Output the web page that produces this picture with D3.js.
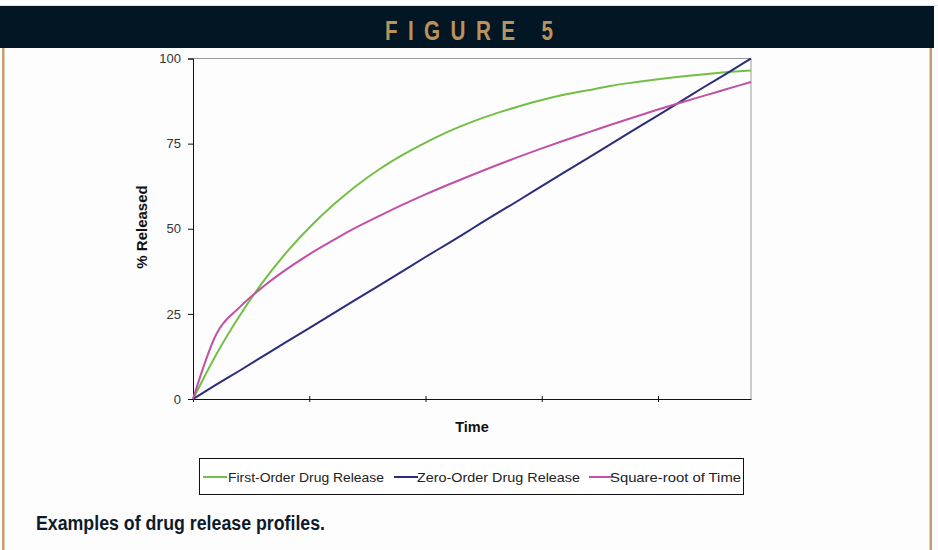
<!DOCTYPE html>
<html>
<head>
<meta charset="utf-8">
<script src="https://cdn.jsdelivr.net/npm/d3@7"></script>
<style>
  html, body { margin: 0; padding: 0; background: #fdfdfd; }
  svg { display: block; }
</style>
</head>
<body>
<svg id="chart" width="938" height="550"></svg>
<script>
// Time points (hours) and % released for the three release models
const timePoints = [0, 1, 2, 3, 4, 5, 6, 7, 8, 9, 10, 11, 12, 13, 14, 15, 16, 17, 18, 19, 20, 21, 22, 23, 24];
const firstOrder = [0, 13.1, 24.4, 34.3, 42.9, 50.3, 56.8, 62.5, 67.4, 71.6, 75.3, 78.6, 81.4, 83.8, 85.9, 87.8, 89.4, 90.7, 92.0, 93.0, 93.9, 94.7, 95.4, 96.0, 96.5];
const zeroOrder = [0, 4.2, 8.3, 12.5, 16.7, 20.8, 25, 29.2, 33.3, 37.5, 41.7, 45.8, 50, 54.2, 58.3, 62.5, 66.7, 70.8, 75, 79.2, 83.3, 87.5, 91.7, 95.8, 100];
const sqrtTime = [0, 19.0, 26.9, 32.9, 38.0, 42.5, 46.5, 50.3, 53.7, 57.0, 60.1, 63.0, 65.8, 68.5, 71.1, 73.6, 76.0, 78.3, 80.6, 82.8, 85.0, 87.1, 89.1, 91.1, 93.1];
const seriesNames = ["First-Order Drug Release", "Zero-Order Drug Release", "Square-root of Time"];
const seriesColors = ["#72bf44", "#2c2c7c", "#c050a8"];
const yTicks = [0, 25, 50, 75, 100];
const xTicks = [0, 5, 10, 15, 20];

const svg = d3.select("#chart");

// Page frame: dark header band and tan side rules
svg.append("line").attr("x1", 0).attr("x2", 938).attr("y1", 5.5).attr("y2", 5.5)
  .attr("stroke", "#e2e2e2").attr("stroke-width", 1);
svg.append("rect").attr("x", 0).attr("y", 6).attr("width", 934).attr("height", 42).attr("fill", "#021624");
svg.append("rect").attr("x", 2).attr("y", 48).attr("width", 2.5).attr("height", 502).attr("fill", "#c4a06f");
svg.append("rect").attr("x", 929.5).attr("y", 48).attr("width", 2.5).attr("height", 502).attr("fill", "#c4a06f");

// Condensed, letter-spaced heading
svg.append("g")
  .attr("transform", "translate(385,39.5) scale(0.74,1)")
  .append("text")
  .attr("x", 0).attr("y", 0)
  .attr("textLength", 168 / 0.74).attr("lengthAdjust", "spacing")
  .attr("font-family", "Arial, 'Liberation Sans', sans-serif")
  .attr("font-size", 28).attr("font-weight", "bold")
  .attr("fill", "#b8935d")
  .text("FIGURE 5");

// Plot area
const plot = { left: 193, right: 751, top: 58.5, bottom: 399 };
const x = d3.scaleLinear().domain([0, 24]).range([plot.left, plot.right]);
const y = d3.scaleLinear().domain([0, 100]).range([plot.bottom, plot.top]);

// Top and right frame of the plot area
svg.append("path")
  .attr("d", `M${plot.left},${plot.top}H${plot.right}V${plot.bottom}`)
  .attr("fill", "none").attr("stroke", "#9a9a9a").attr("stroke-width", 1);

// Y axis
const yAxis = svg.append("g")
  .attr("transform", `translate(${plot.left},0)`)
  .call(d3.axisLeft(y).tickValues(yTicks).tickSize(5).tickPadding(7).tickFormat(d3.format("d")));
yAxis.selectAll("text").attr("font-family", "Arial, 'Liberation Sans', sans-serif").attr("font-size", 13).attr("fill", "#333");
yAxis.selectAll("line, path").attr("stroke", "#111");

// X axis (unlabelled ticks crossing the axis line)
const xAxis = svg.append("g")
  .attr("transform", `translate(0,${plot.bottom})`)
  .call(d3.axisBottom(x).tickValues(xTicks).tickSize(3).tickSizeOuter(0).tickFormat(""));
xAxis.selectAll(".tick").append("line").attr("y1", 0).attr("y2", -3);
xAxis.selectAll("line, path").attr("stroke", "#111");

// Axis titles
svg.append("text")
  .attr("transform", `translate(147,227) rotate(-90)`)
  .attr("text-anchor", "middle")
  .attr("font-family", "Arial, 'Liberation Sans', sans-serif")
  .attr("font-size", 15).attr("font-weight", "bold").attr("fill", "#111")
  .text("% Released");
svg.append("text")
  .attr("x", 472).attr("y", 432)
  .attr("text-anchor", "middle")
  .attr("font-family", "Arial, 'Liberation Sans', sans-serif")
  .attr("font-size", 14.5).attr("font-weight", "bold").attr("fill", "#111")
  .text("Time");

// Release curves
const seriesValues = [firstOrder, zeroOrder, sqrtTime];
const line = d3.line()
  .x(d => x(d[0]))
  .y(d => y(d[1]))
  .curve(d3.curveMonotoneX);
seriesValues.forEach((vals, i) => {
  svg.append("path")
    .datum(timePoints.map((t, j) => [t, vals[j]]))
    .attr("d", line)
    .attr("fill", "none")
    .attr("stroke", seriesColors[i])
    .attr("stroke-width", 2)
    .attr("stroke-linejoin", "round");
});

// Legend
svg.append("rect")
  .attr("x", 199.5).attr("y", 458.5).attr("width", 544).attr("height", 36)
  .attr("fill", "#fff").attr("stroke", "#111").attr("stroke-width", 1);
const legendX = [203, 394, 589];
const legendTextX = [228, 417, 610];
const legendTextW = [156, 163, 131];
seriesNames.forEach((name, i) => {
  svg.append("line")
    .attr("x1", legendX[i]).attr("x2", legendX[i] + 24)
    .attr("y1", 477).attr("y2", 477)
    .attr("stroke", seriesColors[i]).attr("stroke-width", 2);
  svg.append("text")
    .attr("x", legendTextX[i]).attr("y", 481.5)
    .attr("textLength", legendTextW[i]).attr("lengthAdjust", "spacingAndGlyphs")
    .attr("font-family", "Arial, 'Liberation Sans', sans-serif")
    .attr("font-size", 13).attr("fill", "#222")
    .text(name);
});

// Caption
svg.append("text")
  .attr("x", 36).attr("y", 530)
  .attr("textLength", 289).attr("lengthAdjust", "spacingAndGlyphs")
  .attr("font-family", "Arial, 'Liberation Sans', sans-serif")
  .attr("font-size", 19.5).attr("font-weight", "bold").attr("fill", "#0d1b2a")
  .text("Examples of drug release profiles.");
</script>
</body>
</html>
